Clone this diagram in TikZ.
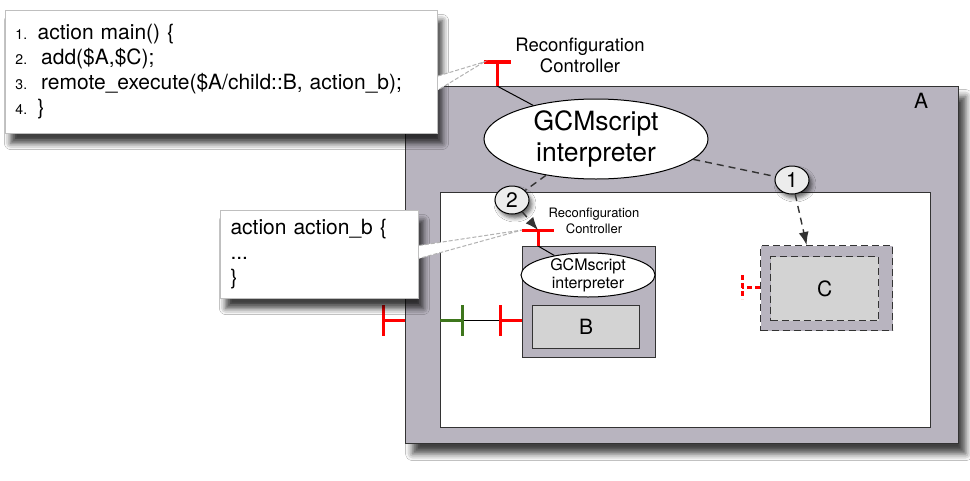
\documentclass[tikz,border=0pt]{standalone}
\usepackage{fontspec}
\setmainfont{TeX Gyre Heros}
\usepackage{tikz}
\usetikzlibrary{arrows.meta,shapes,shadows,shadows.blur}

\definecolor{compgray}{RGB}{184,180,191}
\definecolor{innergray}{RGB}{211,211,211}
\definecolor{portgreen}{RGB}{62,118,28}

\newcommand{\fsz}[1]{\fontsize{#1}{1.17\dimexpr #1pt\relax}\selectfont}
\newcommand{\lnum}[1]{{\fontsize{14}{14}\selectfont #1}}

\tikzset{
  comp/.style={draw=black!80, line width=1.2pt, fill=compgray, anchor=north west, inner sep=0pt},
  subcomp/.style={comp, fill=innergray},
  codebox/.style={draw=black!25, line width=1pt, fill=white, anchor=north west, align=left,
    inner xsep=10pt, font=\fontsize{21}{25}\selectfont,
    blur shadow={shadow xshift=5pt, shadow yshift=-10pt, shadow blur radius=6pt, shadow opacity=75}},
  interp/.style={ellipse, draw, line width=1pt, fill=white, inner sep=0pt},
  stepnum/.style={ellipse, draw, line width=1pt, fill=gray!15, minimum width=34pt,
    minimum height=28pt, inner sep=0pt, font=\fsz{21},
    blur shadow={shadow xshift=3pt, shadow yshift=-4pt, shadow blur radius=4pt, shadow opacity=60}},
  port/.style={red, line width=3pt},
  flow/.style={dashed, line width=1.4pt, black!80, dash pattern=on 7pt off 5pt},
  callout/.style={fill=white, draw=gray!60, dashed, line width=1pt, dash pattern=on 4pt off 2pt},
}

\begin{document}
\begin{tikzpicture}[x=1pt,y=-1pt]
\fill[white] (0,0) rectangle (970,480);
\useasboundingbox (0,0) rectangle (970,480);

% composite A and its content
\node[comp, minimum width=553pt, minimum height=357pt,
  blur shadow={shadow xshift=7pt, shadow yshift=-10pt, shadow blur radius=7pt, shadow opacity=75}] (A) at (405,86) {};
\node[font=\fsz{21}] (Alabel) at (921,101) {A};
\node[draw=black!80, line width=1.2pt, fill=white, anchor=north west,
  minimum width=490pt, minimum height=235pt] (Ain) at (440,192) {};

% controller of A
\node[interp, minimum width=224pt, minimum height=80pt,
  label={[align=center, font=\fontsize{26.5}{31}\selectfont]center:GCMscript\\interpreter}] (gcmA) at (596,139) {};
\coordinate (rcAbase) at (497,86);
\coordinate (rcAtop) at (497,62);
\coordinate (rcAleft) at (484,62);
\coordinate (rcAright) at (511,62);
\draw[line width=1pt] (rcAbase) -- (gcmA);
\draw[port] (rcAbase) -- (rcAtop);
\draw[port, line width=3.5pt] (rcAleft) -- (rcAright);
\node[font=\fontsize{18.5}{21}\selectfont, align=center] (rcAlabel) at (580,55) {Reconfiguration\\Controller};

% component B
\node[comp, minimum width=133pt, minimum height=111pt] (Bout) at (522,246) {};
\node[subcomp, minimum width=107pt, minimum height=43pt] (B) at (532,305) {};
\node[font=\fsz{21}] at (B) {B};
\node[interp, minimum width=134pt, minimum height=44pt,
  label={[align=center, font=\fontsize{16}{18}\selectfont]center:GCMscript\\interpreter}] (gcmB) at (588,275) {};
\coordinate (rcBbase) at (538,246);
\coordinate (rcBtop) at (538,230);
\coordinate (rcBleft) at (522,230);
\coordinate (rcBright) at (554,230);
\draw[line width=1pt] (rcBbase) -- (gcmB);
\draw[port] (rcBbase) -- (rcBtop);
\draw[port] (rcBleft) -- (rcBright);
\node[font=\fontsize{13}{15.5}\selectfont, align=center] (rcBlabel) at (594,221) {Reconfiguration\\Controller};

% component C (to be added)
\node[comp, dashed, dash pattern=on 7pt off 4pt, minimum width=132pt, minimum height=85pt] (Cout) at (760,245) {};
\node[subcomp, dashed, dash pattern=on 7pt off 4pt, minimum width=108pt, minimum height=64pt] (C) at (770,256) {};
\node[font=\fsz{21}] at (C) {C};
\coordinate (pCin) at (760,287);
\coordinate (pCbar) at (742,287);
\draw[port, dash pattern=on 5pt off 3pt] (pCin) -- (pCbar);
\draw[port, dash pattern=on 5pt off 3pt] (742,275) -- (742,299);

% bindings
\coordinate (pA) at (405,320);
\coordinate (pAbar) at (383,320);
\coordinate (pAin) at (440,320);
\coordinate (pAinbar) at (462,320);
\coordinate (pBbar) at (500,320);
\coordinate (pB) at (522,320);
\draw[port] (pA) -- (pAbar);
\draw[port] (383,305) -- (383,336);
\draw[line width=1pt] (pAinbar) -- (pBbar);
\draw[port, portgreen] (pAin) -- (pAinbar);
\draw[port, portgreen] (462,305) -- (462,336);
\draw[port] (pBbar) -- (pB);
\draw[port] (500,305) -- (500,336);

% scripts
\node[codebox, minimum width=432pt, minimum height=123pt, text width=412pt] (code1) at (5,10)
  {\lnum{1.} action main() \{\\
   \lnum{2.}\ \ add(\$A,\$C);\\
   \lnum{3.}\ \ remote\_execute(\$A/child::B, action\_b);\\
   \lnum{4.} \}};
\node[codebox, minimum width=198pt, minimum height=88pt, text width=178pt] (code2) at (220,210)
  {action action\_b \{\\
   ...\\
   \}};
\filldraw[callout] ([yshift=-4pt]code1.east) -- (rcAleft) -- ([yshift=-18pt]code1.east);
\filldraw[callout] ([yshift=9pt]code2.east) -- (rcBleft) -- ([yshift=-4pt]code2.east);

% reconfiguration steps
\node[stepnum] (s1) at (792,180) {1};
\node[stepnum] (s2) at (512,200) {2};
\draw[flow] (gcmA) -- (s1);
\draw[flow, -{Latex[length=13pt,width=10pt]}] (s1) -- ([xshift=-20pt]Cout.north);
\draw[flow] (gcmA) -- (s2);
\draw[flow, -{Latex[length=13pt,width=10pt]}] (s2) -- (rcBtop);
\end{tikzpicture}
\end{document}
